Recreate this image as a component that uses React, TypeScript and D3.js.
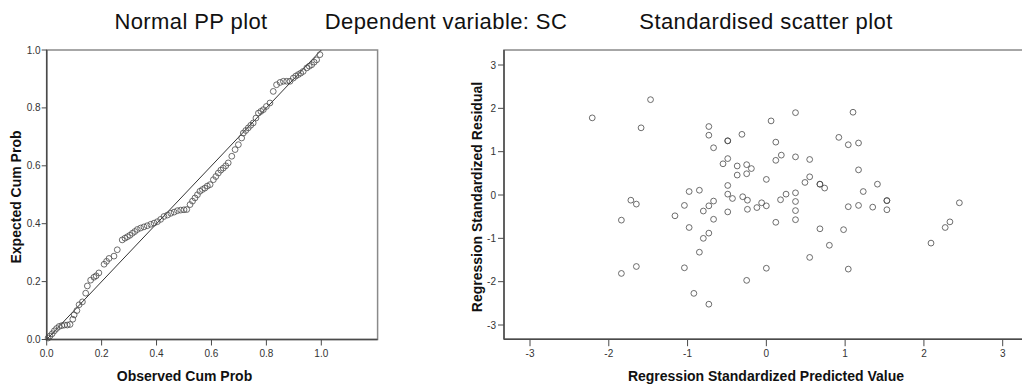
import React from "react";
import * as d3 from "d3";

// ---------- Data ----------
const chartTitles = ["Normal PP plot", "Dependent variable: SC", "Standardised scatter plot"];
const ppXLabel = "Observed Cum Prob";
const ppYLabel = "Expected Cum Prob";
const scXLabel = "Regression Standardized Predicted Value";
const scYLabel = "Regression Standardized Residual";

const ppTicks = [0, 0.2, 0.4, 0.6, 0.8, 1.0];
const scTicks = [-3, -2, -1, 0, 1, 2, 3];

// Normal P-P plot points: observed cumulative probability
const ppObserved = [
  0.005, 0.012, 0.02, 0.028, 0.036, 0.045, 0.055, 0.065, 0.075, 0.085,
  0.095, 0.1, 0.11, 0.118, 0.13, 0.142, 0.148, 0.16, 0.172, 0.18,
  0.19, 0.209, 0.218, 0.227, 0.245, 0.257, 0.275, 0.285, 0.294, 0.303,
  0.312, 0.321, 0.33, 0.342, 0.354, 0.366, 0.379, 0.391, 0.403, 0.415,
  0.427, 0.44, 0.452, 0.464, 0.476, 0.488, 0.5, 0.51, 0.522, 0.531,
  0.54, 0.549, 0.558, 0.567, 0.576, 0.585, 0.595, 0.607, 0.616, 0.625,
  0.634, 0.643, 0.652, 0.661, 0.674, 0.686, 0.698, 0.71, 0.716, 0.725,
  0.734, 0.743, 0.752, 0.762, 0.771, 0.78, 0.789, 0.8, 0.813, 0.825,
  0.837, 0.85, 0.862, 0.874, 0.886, 0.898, 0.907, 0.916, 0.925, 0.934,
  0.947, 0.956, 0.965, 0.974, 0.983, 0.995,
];
// expected cumulative probability
const ppExpected = [
  0.005, 0.012, 0.02, 0.03, 0.038, 0.045, 0.048, 0.05, 0.05, 0.052,
  0.07, 0.085, 0.1, 0.12, 0.13, 0.16, 0.185, 0.205, 0.215, 0.22,
  0.23, 0.26, 0.27, 0.28, 0.288, 0.31, 0.344, 0.35, 0.355, 0.36,
  0.367, 0.373, 0.38, 0.385, 0.389, 0.393, 0.398, 0.402, 0.407, 0.415,
  0.425, 0.43, 0.436, 0.44, 0.445, 0.447, 0.448, 0.449, 0.466, 0.478,
  0.489, 0.5, 0.512, 0.518, 0.523, 0.53, 0.535, 0.552, 0.563, 0.575,
  0.585, 0.592, 0.6, 0.61, 0.633, 0.656, 0.673, 0.696, 0.713, 0.722,
  0.731, 0.74, 0.748, 0.765, 0.782, 0.788, 0.794, 0.805, 0.817, 0.857,
  0.88, 0.888, 0.892, 0.892, 0.892, 0.903, 0.91, 0.915, 0.92, 0.926,
  0.938, 0.944, 0.949, 0.958, 0.966, 0.984,
];

// Scatter plot: standardized predicted value / standardized residual
const predicted = [
  -2.21, -1.47, -1.59, -1.72, -1.65, -1.84, -1.16, -1.65, -1.84, 0.37,
  0.06, -0.73, -0.73, -0.49, -0.49, -0.31, -0.67, 0.12, 0.19, 0.12,
  0.37, 0.55, -0.49, -0.55, -0.37, -0.25, -0.19, -0.37, -0.25, 0.0,
  0.55, 0.49, 0.68, 0.68, -0.49, -0.98, -0.85, -0.49, -0.43, -0.3,
  -0.24, -0.67, -0.73, -1.04, -0.8, -0.49, -0.24, -0.12, -0.06, 0.0,
  0.18, 0.25, 0.37, 0.37, 0.37, 0.37, -0.67, -0.98, 0.12, -0.73,
  -0.8, 0.68, -0.85, -1.04, 0.0, 0.55, -0.25, -0.92, -0.73, 1.1,
  0.92, 1.04, 1.17, 1.17, 0.74, 1.23, 1.41, 1.04, 1.17, 1.35,
  1.53, 1.53, 1.53, 0.98, 0.8, 1.04, 2.45, 2.33, 2.27, 2.09,
];
const residual = [
  1.78, 2.2, 1.55, -0.12, -0.21, -0.58, -0.48, -1.65, -1.81, 1.9,
  1.71, 1.58, 1.38, 1.25, 1.25, 1.4, 1.09, 1.22, 0.92, 0.8,
  0.88, 0.82, 0.84, 0.72, 0.67, 0.7, 0.61, 0.46, 0.49, 0.36,
  0.42, 0.29, 0.25, 0.25, 0.22, 0.08, 0.11, 0.02, -0.08, -0.04,
  -0.12, -0.14, -0.25, -0.24, -0.37, -0.39, -0.33, -0.29, -0.18, -0.25,
  -0.11, 0.02, 0.05, -0.15, -0.36, -0.57, -0.56, -0.75, -0.63, -0.88,
  -1.0, -0.78, -1.32, -1.68, -1.69, -1.44, -1.97, -2.27, -2.52, 1.91,
  1.33, 1.16, 1.2, 0.58, 0.16, 0.08, 0.25, -0.27, -0.24, -0.28,
  -0.13, -0.13, -0.34, -0.8, -1.16, -1.71, -0.18, -0.62, -0.75, -1.11,
];

// ---------- Component ----------
const W = 1022;
const H = 392;
const FONT = "'Liberation Sans', Arial, sans-serif";
const AXIS = "#4a4a4a";
const FRAME = "#8a8a8a";
const MARK = "#4a4a4a";

export default function App() {
  // left: P-P plot
  const xL = d3.scaleLinear().domain([0, 1]).range([46.7, 321.3]);
  const yL = d3.scaleLinear().domain([0, 1]).range([339.5, 50]);
  const lLeft = xL(0), lRight = xL(1.205), lTop = yL(1), lBottom = yL(0);

  // right: scatter
  const xR = d3.scaleLinear().domain([-3, 3]).range([530, 1002.7]);
  const yR = d3.scaleLinear().domain([-3, 3]).range([325, 65]);
  const rLeft = xR(-3.33), rRight = xR(3.35), rTop = yR(3.346), rBottom = yR(-3.328);

  const fmt = d3.format(".1f");
  const ppPts = ppObserved.map((x, i) => [x, ppExpected[i]] as [number, number]);
  const scPts = predicted.map((x, i) => [x, residual[i]] as [number, number]);
  const diag = d3.line<number>().x((v) => xL(v)).y((v) => yL(v))([0, 1]) as string;

  const titleX = [191, 446, 766];

  return (
    <svg
      width={W}
      height={H}
      style={{ position: "fixed", left: 0, top: 0, background: "#fff" }}
      fontFamily={FONT}
    >
      <rect x={0} y={0} width={W} height={H} fill="#fff" />
      {/* titles */}
      {chartTitles.map((t, i) => (
        <text key={t} x={titleX[i]} y={29} fontSize={22} letterSpacing={0.4} textAnchor="middle" fill="#111">{t}</text>
      ))}

      {/* ---- Left P-P plot ---- */}
      <rect x={lLeft} y={lTop} width={lRight - lLeft} height={lBottom - lTop} fill="none" stroke={FRAME} strokeWidth={1.5} />
      <line x1={lLeft} x2={lLeft} y1={lTop} y2={lBottom} stroke={AXIS} strokeWidth={1.5} />
      <line x1={lLeft} x2={lRight} y1={lBottom} y2={lBottom} stroke={AXIS} strokeWidth={1.5} />
      {ppTicks.map((t) => (
        <g key={"ly" + t}>
          <line x1={lLeft - 5} x2={lLeft} y1={yL(t)} y2={yL(t)} stroke={AXIS} strokeWidth={1} />
          <text x={lLeft - 6} y={yL(t) + 3.5} fontSize={10} textAnchor="end" fill="#333">{fmt(t)}</text>
        </g>
      ))}
      {ppTicks.map((t) => (
        <g key={"lx" + t}>
          <line x1={xL(t)} x2={xL(t)} y1={lBottom} y2={lBottom + 6} stroke={AXIS} strokeWidth={1} />
          <text x={xL(t)} y={357} fontSize={10} textAnchor="middle" fill="#333">{fmt(t)}</text>
        </g>
      ))}
      <path d={diag} stroke="#333" strokeWidth={1} fill="none" />
      {ppPts.map(([x, y], i) => (
        <circle key={"pp" + i} cx={xL(x)} cy={yL(y)} r={2.9} fill="none" stroke={MARK} strokeWidth={1} strokeOpacity={0.8} />
      ))}
      <text x={184.5} y={381} fontSize={14} fontWeight="bold" textAnchor="middle" fill="#111">{ppXLabel}</text>
      <text transform={`translate(20.5,197) rotate(-90)`} fontSize={14} fontWeight="bold" textAnchor="middle" fill="#111">{ppYLabel}</text>

      {/* ---- Right scatter plot ---- */}
      <rect x={rLeft} y={rTop} width={rRight - rLeft} height={rBottom - rTop} fill="none" stroke={FRAME} strokeWidth={1.5} />
      <line x1={rLeft} x2={rLeft} y1={rTop} y2={rBottom} stroke={AXIS} strokeWidth={1.5} />
      <line x1={rLeft} x2={rRight} y1={rBottom} y2={rBottom} stroke={AXIS} strokeWidth={1.5} />
      {scTicks.map((t) => (
        <g key={"ry" + t}>
          <line x1={rLeft - 6} x2={rLeft} y1={yR(t)} y2={yR(t)} stroke={AXIS} strokeWidth={1} />
          <text x={rLeft - 8} y={yR(t) + 3.5} fontSize={10} textAnchor="end" fill="#333">{String(t)}</text>
        </g>
      ))}
      {scTicks.map((t) => (
        <g key={"rx" + t}>
          <line x1={xR(t)} x2={xR(t)} y1={rBottom} y2={rBottom + 7} stroke={AXIS} strokeWidth={1} />
          <text x={xR(t)} y={357} fontSize={10} textAnchor="middle" fill="#333">{String(t)}</text>
        </g>
      ))}
      {scPts.map(([x, y], i) => (
        <circle key={"sc" + i} cx={xR(x)} cy={yR(y)} r={2.9} fill="none" stroke={MARK} strokeWidth={1} strokeOpacity={0.8} />
      ))}
      <text x={766} y={381} fontSize={14} fontWeight="bold" textAnchor="middle" fill="#111">{scXLabel}</text>
      <text transform={`translate(481.5,197) rotate(-90)`} fontSize={14} fontWeight="bold" textAnchor="middle" fill="#111">{scYLabel}</text>
    </svg>
  );
}
